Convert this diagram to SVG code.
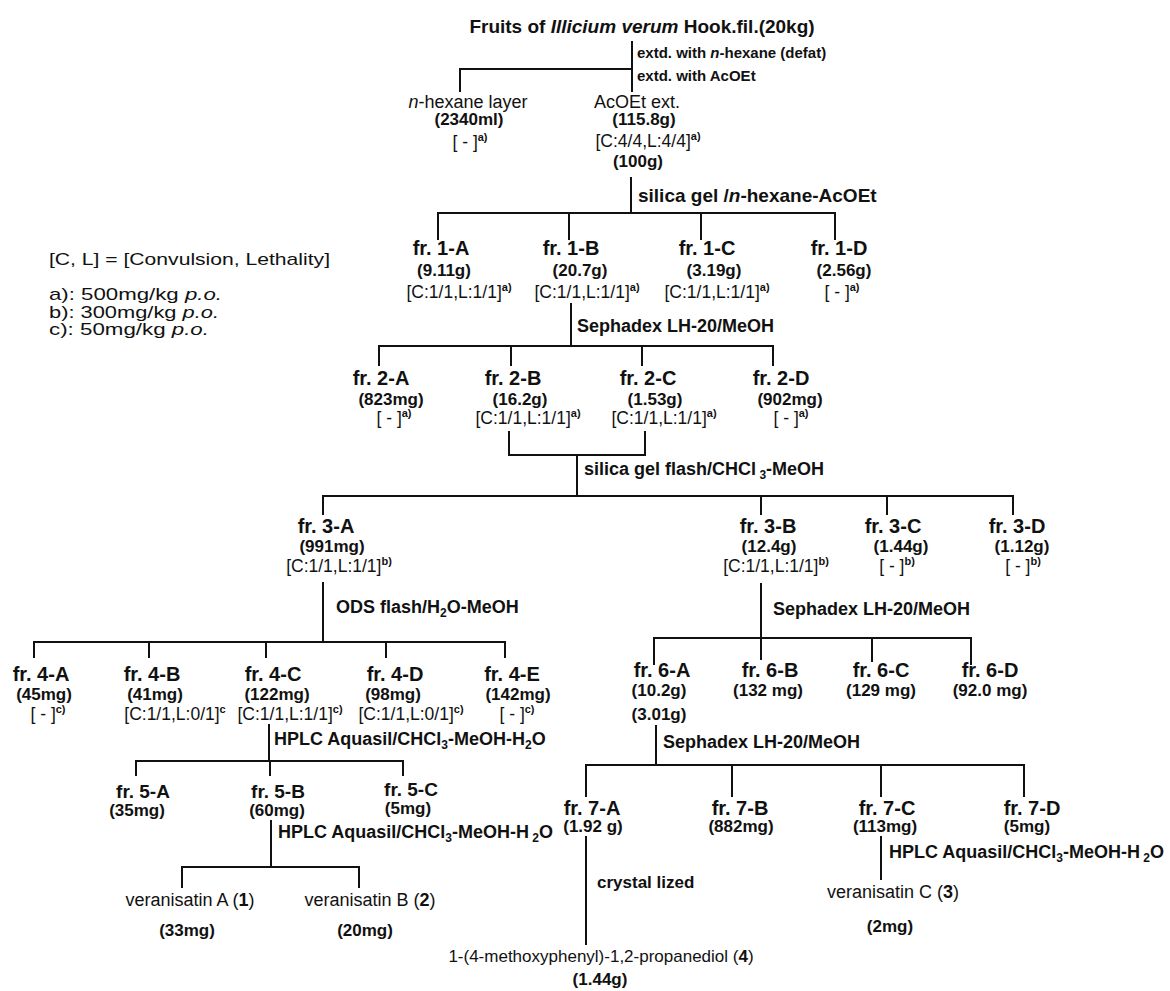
<svg xmlns="http://www.w3.org/2000/svg" width="1170" height="991" viewBox="0 0 1170 991">
<style>
text{font-family:"Liberation Sans",Arial,Helvetica,sans-serif;fill:#111}
.t{font-size:19px;font-weight:bold}
.p{font-size:15px;font-weight:bold}
.h{font-size:18px;font-weight:bold}
.f{font-size:20px;font-weight:bold;text-anchor:middle}
.f5{font-size:19px;font-weight:bold;text-anchor:middle}
.v{font-size:17px;font-weight:bold;text-anchor:middle}
.b{font-size:17.5px;text-anchor:middle}
.n{font-size:18px;text-anchor:middle}
.lg{font-size:17px}
.s{font-size:11px;font-weight:bold}
.sb{font-size:12px}
.i{font-style:italic}
.c line,.c path{stroke:#111;stroke-width:2;fill:none}
</style>
<rect width="1170" height="991" fill="#fff"/>

<g class="c" id="connectors">
<line x1="632" y1="41" x2="632" y2="92"/>
<path d="M460 92V69H632"/>
<line x1="631" y1="177" x2="631" y2="213"/>
<path d="M438 240V213H835V240"/>
<line x1="569" y1="213" x2="569" y2="240"/>
<line x1="701" y1="213" x2="701" y2="240"/>
<line x1="571" y1="303" x2="571" y2="346"/>
<path d="M379 366V346H773V366"/>
<line x1="511" y1="346" x2="511" y2="366"/>
<line x1="642" y1="346" x2="642" y2="366"/>
<path d="M509 431V455H645V431"/>
<line x1="577" y1="455" x2="577" y2="496"/>
<path d="M323 515V496H1013V515"/>
<line x1="761" y1="496" x2="761" y2="515"/>
<line x1="887" y1="496" x2="887" y2="515"/>
<line x1="323" y1="582" x2="323" y2="642"/>
<path d="M34 658V642H505V658"/>
<line x1="149" y1="642" x2="149" y2="658"/>
<line x1="266" y1="642" x2="266" y2="658"/>
<line x1="386" y1="642" x2="386" y2="658"/>
<line x1="269" y1="724" x2="269" y2="761"/>
<path d="M136 776V761H403V776"/>
<line x1="270" y1="761" x2="270" y2="776"/>
<line x1="271" y1="820" x2="271" y2="867"/>
<path d="M182 888V867H359V888"/>
<line x1="761" y1="583" x2="761" y2="660"/>
<path d="M654 665V638H971V665"/>
<line x1="872" y1="638" x2="872" y2="662"/>
<line x1="656" y1="725" x2="656" y2="765"/>
<path d="M586 797V765H1024V797"/>
<line x1="732" y1="765" x2="732" y2="797"/>
<line x1="881" y1="765" x2="881" y2="797"/>
<line x1="586" y1="836" x2="586" y2="945"/>
<line x1="881" y1="836" x2="881" y2="880"/>
</g>

<g id="process-labels">
<text class="p" x="637" y="58">extd. with <tspan class="i">n</tspan>-hexane (defat)</text>
<text class="p" x="637" y="81">extd. with AcOEt</text>
<text class="h" x="638" y="202" style="font-size:19px">silica gel /<tspan class="i">n</tspan>-hexane-AcOEt</text>
<text class="h" x="577" y="332">Sephadex LH-20/MeOH</text>
<text class="h" x="584" y="475">silica gel flash/CHCl<tspan class="sb" dy="4"> 3</tspan><tspan dy="-4">-MeOH</tspan></text>
<text class="h" x="336" y="613">ODS flash/H<tspan class="sb" dy="4">2</tspan><tspan dy="-4">O-MeOH</tspan></text>
<text class="h" x="773" y="615">Sephadex LH-20/MeOH</text>
<text class="h" x="274" y="745">HPLC Aquasil/CHCl<tspan class="sb" dy="4">3</tspan><tspan dy="-4">-MeOH-H</tspan><tspan class="sb" dy="4">2</tspan><tspan dy="-4">O</tspan></text>
<text class="h" x="663" y="748">Sephadex LH-20/MeOH</text>
<text class="h" x="278" y="838">HPLC Aquasil/CHCl<tspan class="sb" dy="4">3</tspan><tspan dy="-4">-MeOH-H</tspan><tspan class="sb" dy="4"> 2</tspan><tspan dy="-4">O</tspan></text>
<text class="h" x="889" y="858">HPLC Aquasil/CHCl<tspan class="sb" dy="4">3</tspan><tspan dy="-4">-MeOH-H</tspan><tspan class="sb" dy="4"> 2</tspan><tspan dy="-4">O</tspan></text>
<text class="p" x="597" y="888" style="font-size:17px">crystal lized</text>
</g>

<g id="legend">
<text class="lg" x="49" y="265" textLength="281" lengthAdjust="spacingAndGlyphs">[C, L] = [Convulsion, Lethality]</text>
<text class="lg" x="49" y="300" textLength="173" lengthAdjust="spacingAndGlyphs">a): 500mg/kg <tspan class="i">p.o.</tspan></text>
<text class="lg" x="49" y="318" textLength="170" lengthAdjust="spacingAndGlyphs">b): 300mg/kg <tspan class="i">p.o.</tspan></text>
<text class="lg" x="49" y="335" textLength="160" lengthAdjust="spacingAndGlyphs">c): 50mg/kg <tspan class="i">p.o.</tspan></text>
</g>

<g id="n-start"><text class="t" x="642" y="33" text-anchor="middle">Fruits of <tspan class="i">Illicium verum</tspan> Hook.fil.(20kg)</text></g>

<g id="n-hexane">
<text class="n" x="468" y="108"><tspan class="i">n</tspan>-hexane layer</text>
<text class="v" x="469" y="125">(2340ml)</text>
<text class="b" x="470" y="148">[ - ]<tspan class="s" dy="-7">a)</tspan></text>
</g>
<g id="n-acoet">
<text class="n" x="637" y="108">AcOEt ext.</text>
<text class="v" x="644" y="125">(115.8g)</text>
<text class="b" x="648" y="147">[C:4/4,L:4/4]<tspan class="s" dy="-7">a)</tspan></text>
<text class="v" x="638" y="167">(100g)</text>
</g>

<g id="n-1A"><text class="f" x="441" y="255">fr. 1-A</text><text class="v" x="444" y="276">(9.11g)</text><text class="b" x="459" y="298">[C:1/1,L:1/1]<tspan class="s" dy="-7">a)</tspan></text></g>
<g id="n-1B"><text class="f" x="571" y="255">fr. 1-B</text><text class="v" x="580" y="276">(20.7g)</text><text class="b" x="587" y="298">[C:1/1,L:1/1]<tspan class="s" dy="-7">a)</tspan></text></g>
<g id="n-1C"><text class="f" x="707" y="255">fr. 1-C</text><text class="v" x="714" y="276">(3.19g)</text><text class="b" x="717" y="298">[C:1/1,L:1/1]<tspan class="s" dy="-7">a)</tspan></text></g>
<g id="n-1D"><text class="f" x="839" y="255">fr. 1-D</text><text class="v" x="844" y="276">(2.56g)</text><text class="b" x="842" y="298">[ - ]<tspan class="s" dy="-7">a)</tspan></text></g>

<g id="n-2A"><text class="f" x="381" y="385">fr. 2-A</text><text class="v" x="391" y="405">(823mg)</text><text class="b" x="394" y="424">[ - ]<tspan class="s" dy="-7">a)</tspan></text></g>
<g id="n-2B"><text class="f" x="513" y="385">fr. 2-B</text><text class="v" x="520" y="405">(16.2g)</text><text class="b" x="528" y="424">[C:1/1,L:1/1]<tspan class="s" dy="-7">a)</tspan></text></g>
<g id="n-2C"><text class="f" x="648" y="385">fr. 2-C</text><text class="v" x="655" y="405">(1.53g)</text><text class="b" x="664" y="424">[C:1/1,L:1/1]<tspan class="s" dy="-7">a)</tspan></text></g>
<g id="n-2D"><text class="f" x="781" y="385">fr. 2-D</text><text class="v" x="790" y="405">(902mg)</text><text class="b" x="791" y="424">[ - ]<tspan class="s" dy="-7">a)</tspan></text></g>

<g id="n-3A"><text class="f" x="326" y="533">fr. 3-A</text><text class="v" x="332" y="552">(991mg)</text><text class="b" x="339" y="572">[C:1/1,L:1/1]<tspan class="s" dy="-7">b)</tspan></text></g>
<g id="n-3B"><text class="f" x="768" y="533">fr. 3-B</text><text class="v" x="769" y="552">(12.4g)</text><text class="b" x="776" y="572">[C:1/1,L:1/1]<tspan class="s" dy="-7">b)</tspan></text></g>
<g id="n-3C"><text class="f" x="893" y="533">fr. 3-C</text><text class="v" x="901" y="552">(1.44g)</text><text class="b" x="897" y="572">[ - ]<tspan class="s" dy="-7">b)</tspan></text></g>
<g id="n-3D"><text class="f" x="1017" y="533">fr. 3-D</text><text class="v" x="1022" y="552">(1.12g)</text><text class="b" x="1023" y="572">[ - ]<tspan class="s" dy="-7">b)</tspan></text></g>

<g id="n-4A"><text class="f" x="41" y="681">fr. 4-A</text><text class="v" x="44" y="700">(45mg)</text><text class="b" x="48" y="720">[ - ]<tspan class="s" dy="-7">c)</tspan></text></g>
<g id="n-4B"><text class="f" x="152" y="681">fr. 4-B</text><text class="v" x="155" y="700">(41mg)</text><text class="b" x="175" y="720">[C:1/1,L:0/1]<tspan class="s" dy="-7">c</tspan></text></g>
<g id="n-4C"><text class="f" x="273" y="681">fr. 4-C</text><text class="v" x="277" y="700">(122mg)</text><text class="b" x="290" y="720">[C:1/1,L:1/1]<tspan class="s" dy="-7">c)</tspan></text></g>
<g id="n-4D"><text class="f" x="395" y="681">fr. 4-D</text><text class="v" x="393" y="700">(98mg)</text><text class="b" x="411" y="720">[C:1/1,L:0/1]<tspan class="s" dy="-7">c)</tspan></text></g>
<g id="n-4E"><text class="f" x="512" y="681">fr. 4-E</text><text class="v" x="518" y="700">(142mg)</text><text class="b" x="517" y="720">[ - ]<tspan class="s" dy="-7">c)</tspan></text></g>

<g id="n-5A"><text class="f5" x="143" y="798">fr. 5-A</text><text class="v" x="137" y="816">(35mg)</text></g>
<g id="n-5B"><text class="f5" x="278" y="798">fr. 5-B</text><text class="v" x="277" y="816">(60mg)</text></g>
<g id="n-5C"><text class="f5" x="411" y="796">fr. 5-C</text><text class="v" x="408" y="814">(5mg)</text></g>

<g id="n-6A"><text class="f" x="662" y="677">fr. 6-A</text><text class="v" x="659" y="696">(10.2g)</text><text class="v" x="659" y="720">(3.01g)</text></g>
<g id="n-6B"><text class="f" x="770" y="677">fr. 6-B</text><text class="v" x="768" y="696">(132 mg)</text></g>
<g id="n-6C"><text class="f" x="881" y="677">fr. 6-C</text><text class="v" x="881" y="696">(129 mg)</text></g>
<g id="n-6D"><text class="f" x="990" y="677">fr. 6-D</text><text class="v" x="990" y="696">(92.0 mg)</text></g>

<g id="n-7A"><text class="f" x="592" y="815">fr. 7-A</text><text class="v" x="593" y="832">(1.92 g)</text></g>
<g id="n-7B"><text class="f" x="740" y="815">fr. 7-B</text><text class="v" x="741" y="832">(882mg)</text></g>
<g id="n-7C"><text class="f" x="887" y="815">fr. 7-C</text><text class="v" x="885" y="832">(113mg)</text></g>
<g id="n-7D"><text class="f" x="1032" y="815">fr. 7-D</text><text class="v" x="1027" y="832">(5mg)</text></g>

<g id="n-ver-A"><text class="n" x="190" y="906">veranisatin A (<tspan font-weight="bold">1</tspan>)</text><text class="v" x="187" y="936">(33mg)</text></g>
<g id="n-ver-B"><text class="n" x="370" y="906">veranisatin B (<tspan font-weight="bold">2</tspan>)</text><text class="v" x="365" y="936">(20mg)</text></g>
<g id="n-ver-C"><text class="n" x="893" y="898">veranisatin C (<tspan font-weight="bold">3</tspan>)</text><text class="v" x="890" y="932">(2mg)</text></g>
<g id="n-cpd4"><text class="n" x="601" y="962" style="font-size:17px">1-(4-methoxyphenyl)-1,2-propanediol (<tspan font-weight="bold">4</tspan>)</text><text class="v" x="600" y="985">(1.44g)</text></g>
</svg>
